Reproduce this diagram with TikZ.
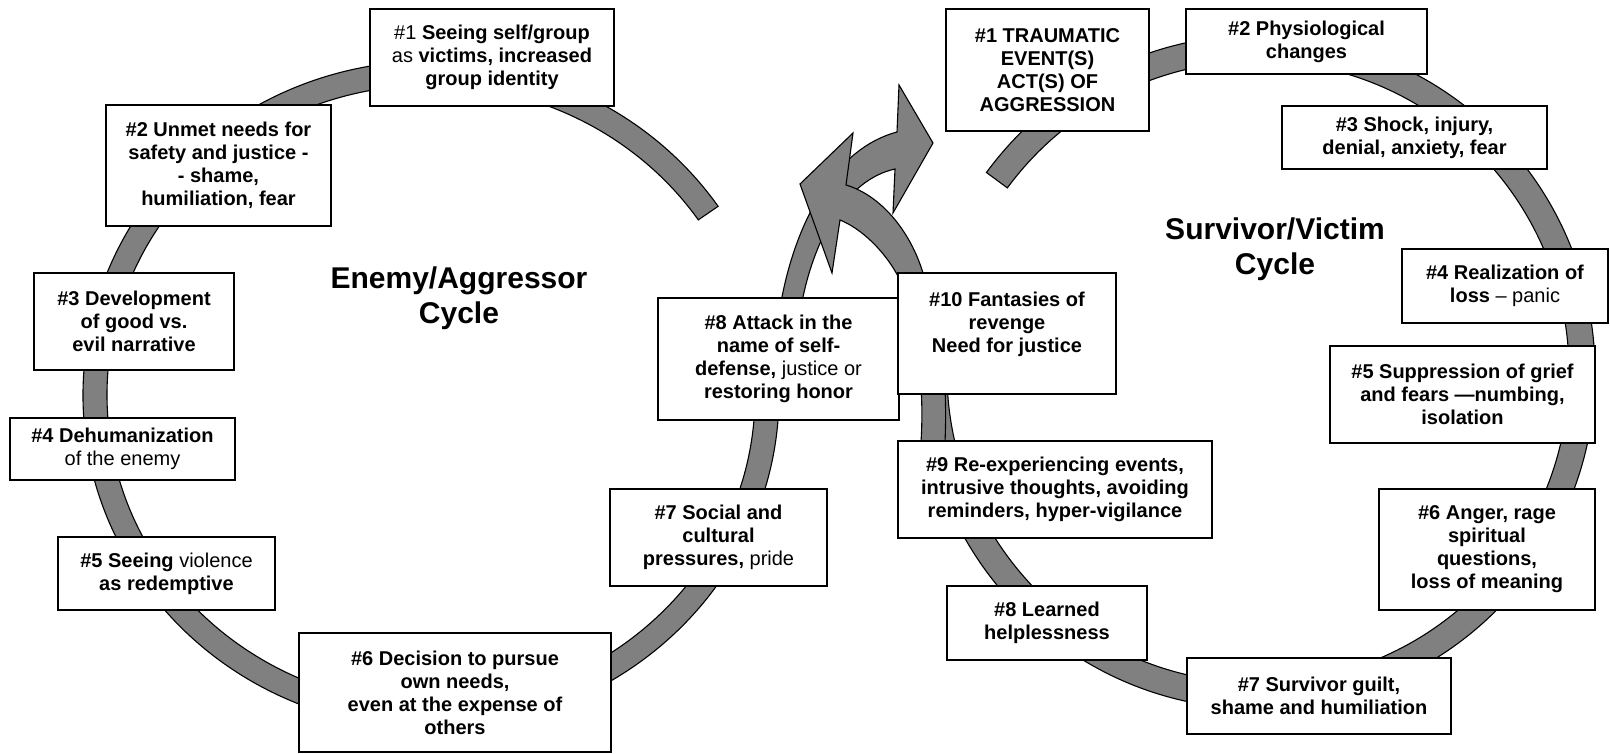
\documentclass[tikz,border=0pt]{standalone}
\usepackage{fontspec}
\setmainfont{Liberation Sans}
\usetikzlibrary{calc}
\definecolor{ringgray}{RGB}{128,128,128}
\tikzset{
  ring/.style={fill=ringgray, draw=black, line width=1.1pt},
  box/.style={draw=black, fill=white, line width=1.6pt, align=center, inner sep=0pt,
    font=\fontsize{20}{23}\selectfont\bfseries},
  cycletitle/.style={align=center, inner sep=0pt, font=\fontsize{30}{34.5}\selectfont\bfseries}
}
\begin{document}
\begin{tikzpicture}[x=1pt,y=-1pt]
\useasboundingbox (0,0) rectangle (1610,754);
\coordinate (Lc) at (431,395);
\coordinate (Rc) at (1258,372);
% left ring
\filldraw[ring] ([shift={(-34.4:348 and 334)}]Lc) arc[start angle=-34.4, end angle=-362, x radius=348, y radius=334]
  -- ([shift={(-362:324 and 310)}]Lc) arc[start angle=-362, end angle=-34.4, x radius=324, y radius=310] -- cycle;
% right ring
\filldraw[ring] ([shift={(216.3:337)}]Rc) arc[start angle=216.3, end angle=548, radius=337]
  -- ([shift={(548:311)}]Rc) arc[start angle=548, end angle=216.3, radius=311] -- cycle;
% arrow from #8 (left) to right cycle
\filldraw[ring] (770,390) -- (782,297) .. controls (795,230) and (830,150) .. (897,132)
  -- (899,85) -- (933,143) -- (893,213) -- (895,169)
  .. controls (845,180) and (815,240) .. (803,297) -- (794,390) -- cycle;
% arrow from #10 (right) to left cycle
\filldraw[ring] (947,470) -- (945,442) .. controls (947,400) and (945,320) .. (923,273)
  .. controls (910,230) and (880,195) .. (846,185)
  -- (853,133) -- (800,184) -- (832,273) -- (840,220)
  .. controls (860,228) and (885,250) .. (900,280)
  .. controls (915,320) and (925,380) .. (921,442) -- (923,470) -- cycle;
% left cycle boxes
\node[box, minimum width=244pt, minimum height=97pt] (L1) at (492,57.5)
  {{\mdseries\#1} Seeing self/group\\{\mdseries as} victims, increased\\group identity};
\node[box, minimum width=225pt, minimum height=121pt] (L2) at (218.5,165.5)
  {\#2 Unmet needs for\\safety and justice -\\- shame,\\humiliation, fear};
\node[box, minimum width=200pt, minimum height=97pt] (L3) at (134,321.5)
  {\#3 Development\\of good vs.\\evil narrative};
\node[box, minimum width=225pt, minimum height=62pt] (L4) at (122.5,449)
  {\#4 Dehumanization\\{\mdseries of the enemy}};
\node[box, minimum width=217pt, minimum height=73pt] (L5) at (166.5,573.5)
  {\#5 Seeing {\mdseries violence}\\as redemptive};
\node[box, minimum width=312pt, minimum height=119pt] (L6) at (455,692.5)
  {\#6 Decision to pursue\\own needs,\\even at the expense of\\others};
\node[box, minimum width=217pt, minimum height=97pt] (L7) at (718.5,537.5)
  {\#7 Social and\\cultural\\pressures, {\mdseries pride}};
\node[box, minimum width=241pt, minimum height=122pt] (L8) at (778.5,359)
  {\#8 Attack in the\\name of self-\\defense, {\mdseries justice or}\\restoring honor};
% right cycle boxes
\node[box, minimum width=203pt, minimum height=122pt] (R1) at (1047.5,70)
  {\#1 TRAUMATIC\\EVENT(S)\\ACT(S) OF\\AGGRESSION};
\node[box, minimum width=241pt, minimum height=65pt] (R2) at (1306.5,41.5)
  {\#2 Physiological\\changes};
\node[box, minimum width=265pt, minimum height=63pt] (R3) at (1414.5,137.5)
  {\#3 Shock, injury,\\denial, anxiety, fear};
\node[box, minimum width=206pt, minimum height=74pt] (R4) at (1505,286)
  {\#4 Realization of\\loss {\mdseries – panic}};
\node[box, minimum width=265pt, minimum height=97pt] (R5) at (1462.5,394.5)
  {\#5 Suppression of grief\\and fears —numbing,\\isolation};
\node[box, minimum width=216pt, minimum height=121pt] (R6) at (1487,549.5)
  {\#6 Anger, rage\\spiritual\\questions,\\loss of meaning};
\node[box, minimum width=264pt, minimum height=76pt] (R7) at (1319,696)
  {\#7 Survivor guilt,\\shame and humiliation};
\node[box, minimum width=200pt, minimum height=74pt] (R8) at (1047,623)
  {\#8 Learned\\helplessness};
\node[box, minimum width=314pt, minimum height=97pt] (R9) at (1055,489.5)
  {\#9 Re-experiencing events,\\intrusive thoughts, avoiding\\reminders, hyper-vigilance};
\node[box, minimum width=218pt, minimum height=121pt] (R10) at (1007,333.5)
  {\#10 Fantasies of\\revenge\\Need for justice\\~};
% titles
\node[cycletitle] (T1) at (459,298) {Enemy/Aggressor\\Cycle};
\node[cycletitle] (T2) at (1275,249) {Survivor/Victim\\Cycle};
\end{tikzpicture}
\end{document}
